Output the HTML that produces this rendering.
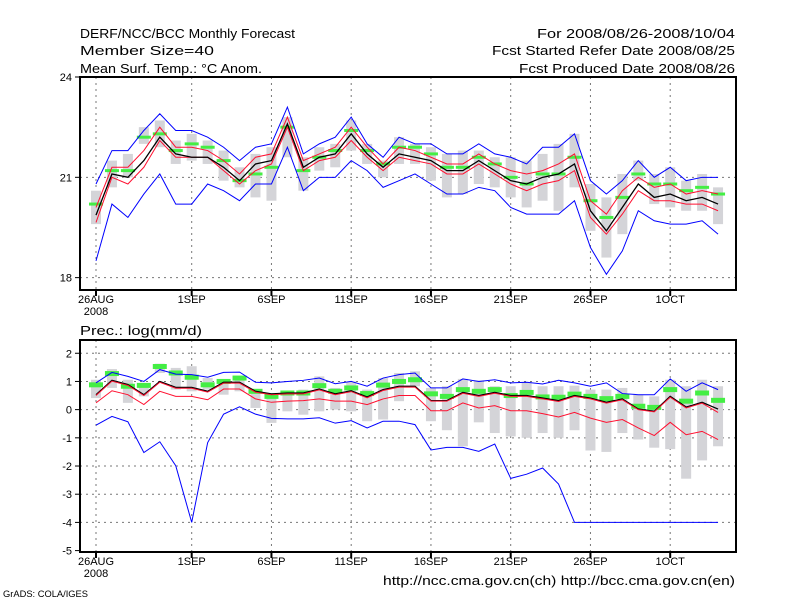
<!DOCTYPE html>
<html><head><meta charset="utf-8"><style>
html,body{margin:0;padding:0;background:#fff;}
svg{display:block;font-family:"Liberation Sans",sans-serif;}
</style></head><body>
<svg id="chart" width="800" height="600" viewBox="0 0 800 600">
<g font-size="13" fill="#000">
<text x="80" y="38" textLength="215" lengthAdjust="spacingAndGlyphs">DERF/NCC/BCC Monthly Forecast</text>
<text x="80" y="55" textLength="134" lengthAdjust="spacingAndGlyphs">Member Size=40</text>
<text x="80" y="73" textLength="182" lengthAdjust="spacingAndGlyphs">Mean Surf. Temp.: °C Anom.</text>
<text x="735" y="38" text-anchor="end" textLength="198" lengthAdjust="spacingAndGlyphs">For 2008/08/26-2008/10/04</text>
<text x="735" y="55" text-anchor="end" textLength="243" lengthAdjust="spacingAndGlyphs">Fcst Started Refer Date 2008/08/25</text>
<text x="735" y="73" text-anchor="end" textLength="216" lengthAdjust="spacingAndGlyphs">Fcst Produced Date 2008/08/26</text>
<text x="80" y="335" textLength="122" lengthAdjust="spacingAndGlyphs">Prec.: log(mm/d)</text>
<text x="383" y="585" textLength="352" lengthAdjust="spacingAndGlyphs">http://ncc.cma.gov.cn(ch)   http://bcc.cma.gov.cn(en)</text>
<text x="3" y="597" font-size="9" textLength="85" lengthAdjust="spacingAndGlyphs">GrADS: COLA/IGES</text>
</g>
<g id="top"></g>
<g id="bot"></g>
</svg>
<script>
// ---- Temperature panel data ----
const tMax=[20.8,21.8,21.8,22.4,22.9,22.4,22.4,22.2,21.9,21.5,21.9,22.0,23.1,21.7,22.0,22.2,22.8,22.0,21.6,22.2,22.0,22.0,21.7,21.7,22.0,21.7,21.6,21.4,21.9,21.9,22.3,20.9,20.5,20.9,21.5,21.0,21.3,20.9,21.0,21.0];
const tMin=[18.5,20.2,19.8,20.5,21.1,20.2,20.2,20.8,20.6,20.3,20.8,20.8,21.9,20.6,21.0,21.0,21.5,21.2,20.7,20.9,21.1,20.8,20.5,20.5,20.7,20.6,20.1,19.9,19.9,19.9,20.3,18.9,18.1,18.8,20.0,19.7,19.6,19.6,19.7,19.3];
const tRedHi=[20.1,21.3,21.3,21.8,22.5,21.9,21.9,21.8,21.5,21.1,21.6,21.7,22.8,21.5,21.7,21.9,22.5,21.9,21.4,21.9,21.8,21.6,21.4,21.4,21.7,21.4,21.2,21.1,21.2,21.4,21.7,20.3,19.9,20.6,21.0,20.7,20.8,20.5,20.6,20.5];
const tRedLo=[19.65,21.0,20.8,21.3,22.1,21.6,21.6,21.6,21.2,20.8,21.2,21.4,22.5,21.2,21.5,21.6,22.1,21.6,21.2,21.6,21.5,21.4,21.1,21.1,21.4,21.1,20.8,20.6,20.8,20.9,21.2,19.8,19.3,19.9,20.6,20.3,20.3,20.2,20.2,20.0];
const tMean=[19.87,21.1,21.0,21.5,22.2,21.7,21.6,21.6,21.3,20.9,21.4,21.5,22.6,21.3,21.6,21.7,22.3,21.7,21.3,21.7,21.6,21.5,21.2,21.2,21.5,21.2,20.9,20.8,21.0,21.1,21.4,20.0,19.4,20.1,20.8,20.4,20.5,20.3,20.4,20.2];
const tObs=[20.2,21.2,21.2,22.2,22.3,21.8,22.0,21.9,21.5,20.9,21.1,21.3,22.5,21.2,21.6,21.8,22.4,21.8,21.4,21.9,21.9,21.7,21.3,21.3,21.6,21.4,21.0,20.8,21.1,21.1,21.6,20.3,19.8,20.4,21.1,20.8,20.8,20.6,20.7,20.5];
const tBoxHi=[20.6,21.5,21.7,22.5,22.7,22.1,22.3,22.1,21.8,21.3,21.7,21.9,22.8,21.6,21.9,22.0,22.7,22.0,21.5,22.2,22.0,21.9,21.7,21.8,21.8,21.6,21.6,21.5,21.7,22.0,22.3,20.8,20.4,21.1,21.5,21.1,21.3,20.9,21.1,20.7];
const tBoxLo=[19.6,20.7,21.0,22.0,21.9,21.4,21.5,21.4,20.9,20.7,20.4,20.3,21.6,20.6,21.2,21.3,21.8,21.4,21.0,21.4,21.4,20.9,20.4,20.5,20.8,20.7,20.4,20.1,20.3,20.0,20.7,19.4,18.6,19.3,20.9,20.2,20.1,20.0,20.0,19.6];
const tTicks=[18,21,24];
// ---- Precipitation panel data ----
const pMax=[0.95,1.32,1.18,1.0,1.42,1.26,1.24,1.15,1.32,1.33,0.97,0.95,1.0,1.04,1.12,0.92,1.0,0.83,1.12,1.24,1.30,0.77,0.77,1.09,1.0,1.06,0.95,0.97,0.91,1.04,0.95,0.83,0.95,0.57,0.53,0.53,1.09,0.65,0.95,0.71];
const pMin=[-0.55,-0.24,-0.43,-1.52,-1.14,-1.99,-4.0,-1.17,-0.16,0.1,-0.16,-0.31,-0.33,-0.33,-0.29,-0.48,-0.39,-0.65,-0.41,-0.41,-0.53,-1.43,-1.34,-1.34,-1.48,-1.22,-2.44,-2.29,-2.07,-2.64,-4.0,-4.0,-4.0,-4.0,-4.0,-4.0,-4.0,-4.0,-4.0,-4.0];
const pMean=[0.53,1.04,0.89,0.53,1.0,0.79,0.79,0.65,0.97,0.97,0.65,0.56,0.59,0.59,0.73,0.56,0.67,0.45,0.71,0.83,0.83,0.32,0.32,0.61,0.50,0.61,0.50,0.50,0.41,0.32,0.50,0.41,0.26,0.38,0.02,-0.06,0.47,0.09,0.26,0.02];
const pRedHi=[0.5,1.01,0.86,0.5,0.97,0.76,0.76,0.62,0.94,0.94,0.62,0.53,0.56,0.56,0.7,0.53,0.64,0.42,0.68,0.8,0.8,0.3,0.3,0.58,0.47,0.58,0.47,0.47,0.38,0.29,0.47,0.38,0.23,0.35,0.0,-0.08,0.44,0.06,0.23,-0.1];
const pRedLo=[0.24,0.67,0.53,0.18,0.65,0.47,0.47,0.35,0.73,0.73,0.38,0.26,0.30,0.32,0.38,0.30,0.30,0.18,0.38,0.50,0.50,-0.04,-0.04,0.24,0.06,0.14,-0.04,-0.04,-0.14,-0.26,-0.10,-0.30,-0.45,-0.35,-0.65,-0.92,-0.45,-0.89,-0.77,-1.06];
const pObs=[0.88,1.28,0.83,0.86,1.53,1.30,1.15,0.88,1.0,1.12,0.65,0.47,0.59,0.59,0.85,0.65,0.77,0.57,0.87,1.0,1.06,0.56,0.47,0.71,0.65,0.71,0.50,0.61,0.45,0.44,0.55,0.47,0.39,0.47,0.12,0.08,0.71,0.30,0.59,0.33];
const pBoxHi=[1.06,1.44,1.06,0.88,1.63,1.48,1.54,1.12,0.94,1.18,0.71,0.59,0.65,0.71,1.18,0.77,1.0,0.71,1.12,1.30,1.36,0.77,0.83,1.09,1.04,0.83,0.83,0.97,0.83,0.83,0.85,0.71,0.71,0.77,0.53,0.47,1.06,0.83,1.06,0.83];
const pBoxLo=[0.41,0.77,0.24,0.47,1.30,0.71,0.65,0.71,0.53,0.65,0.06,-0.47,-0.06,-0.18,-0.06,0.0,-0.06,-0.41,-0.35,0.30,0.83,-0.41,-0.73,-1.3,-0.45,-0.83,-0.95,-1.0,-0.83,-1.0,-0.73,-1.45,-1.5,-0.83,-1.06,-1.35,-1.4,-2.45,-1.8,-1.3];
const pTicks=[-5,-4,-3,-2,-1,0,1,2];
// ---- x axis ----
const xLabels=["26AUG","1SEP","6SEP","11SEP","16SEP","21SEP","26SEP","1OCT"];
const xLabelDays=[0,6,11,16,21,26,31,36];

const NS="http://www.w3.org/2000/svg";
function mk(tag,attrs,parent){const e=document.createElementNS(NS,tag);for(const k in attrs)e.setAttribute(k,attrs[k]);parent.appendChild(e);return e;}
const X0=80,X1=736;
function xDay(d){return 96+15.95*d;}

function panel(g,top,bottom,vmin,vmax,ticks,gridVals,obsH,series,boxHi,boxLo,obs,tickName){
  const yv=v=>bottom-(v-vmin)/(vmax-vmin)*(bottom-top);
  gridVals.forEach(v=>{
    const l=mk('line',{x1:X0,x2:X1,y1:yv(v),y2:yv(v),stroke:'#777','stroke-dasharray':'2,4','stroke-width':1},g);
    
    
  });
  xLabelDays.forEach(d=>{
    const l=mk('line',{x1:xDay(d),x2:xDay(d),y1:top,y2:bottom,stroke:'#777','stroke-dasharray':'2,4','stroke-width':1},g);
    
    
  });
  boxHi.forEach((h,i)=>{
    const r=mk('rect',{x:xDay(i)-5,y:yv(h),width:10,height:Math.max(1,yv(boxLo[i])-yv(h)),fill:'#d4d4d8'},g);
    
    
  });
  obs.forEach((v,i)=>{
    const r=mk('rect',{x:xDay(i)-7,y:yv(v)-obsH/2,width:14,height:obsH,fill:'#44ee44'},g);
    
    
  });
  series.forEach(s=>{
    const p=mk('polyline',{points:s.d.map((v,i)=>xDay(i)+','+yv(v)).join(' '),fill:'none',stroke:s.c,'stroke-width':s.w},g);
    
    
  });
  const f=mk('rect',{x:X0,y:top,width:X1-X0,height:bottom-top,fill:'none',stroke:'#000','stroke-width':2},g);
  
  
  ticks.forEach(v=>{
    mk('line',{x1:X0-5,x2:X0,y1:yv(v),y2:yv(v),stroke:'#000'},g);
    const t=mk('text',{x:X0-8,y:yv(v)+4,'text-anchor':'end','font-size':11},g);
    t.textContent=v;
    
    
  });
  xLabelDays.forEach((d,k)=>{
    mk('line',{x1:xDay(d),x2:xDay(d),y1:bottom,y2:bottom+6,stroke:'#000','stroke-width':2},g);
    const t=mk('text',{x:xDay(d),y:bottom+13,'text-anchor':'middle','font-size':11},g);
    t.textContent=xLabels[k];
    
    
  });
  const yr=mk('text',{x:xDay(0),y:bottom+25,'text-anchor':'middle','font-size':11},g);
  yr.textContent='2008';
  
  
}
panel(document.getElementById('top'),77,290,17.63,24.0,tTicks,[18,21],3,
 [{d:tMax,c:'#0000ff',w:1,n:'max-line'},{d:tMin,c:'#0000ff',w:1,n:'min-line'},
  {d:tRedHi,c:'#ff1030',w:1,n:'upper-red-line'},{d:tRedLo,c:'#ff1030',w:1,n:'lower-red-line'},
  {d:tMean,c:'#000',w:1.3,n:'mean-line'}],tBoxHi,tBoxLo,tObs,'temp-y-tick-label');
panel(document.getElementById('bot'),340,552,-5.05,2.47,pTicks,[-4,-3,-2,-1,0,1,2],5,
 [{d:pMax,c:'#0000ff',w:1,n:'max-line'},{d:pMin,c:'#0000ff',w:1,n:'min-line'},
  {d:pMean,c:'#000',w:1.3,n:'mean-line'},
  {d:pRedHi,c:'#ff1030',w:1,n:'upper-red-line'},{d:pRedLo,c:'#ff1030',w:1,n:'lower-red-line'}],pBoxHi,pBoxLo,pObs,'prec-y-tick-label');
</script>
</body></html>
